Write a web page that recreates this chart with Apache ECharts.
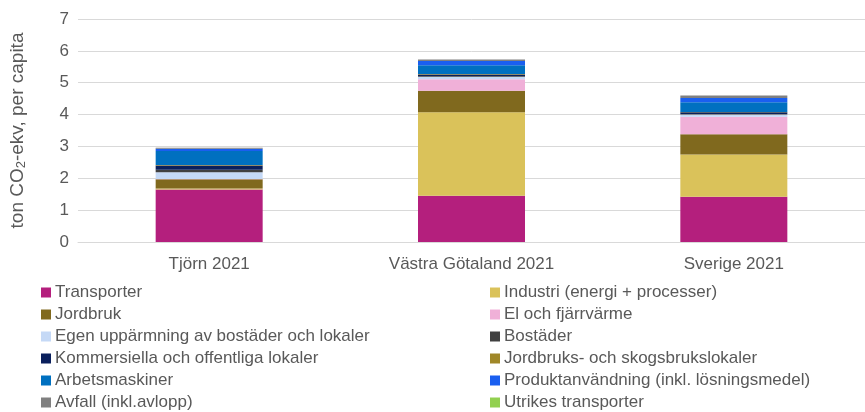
<!DOCTYPE html>
<html>
<head>
<meta charset="utf-8">
<script src="https://cdn.jsdelivr.net/npm/echarts@6/dist/echarts.min.js"></script>
<style>
  html, body { margin: 0; padding: 0; background: #fff; }
  #chart { width: 865px; height: 412px; }
</style>
</head>
<body>
<div id="chart"></div>
<script>
const categories = ["Tjörn 2021", "Västra Götaland 2021", "Sverige 2021"];

// ton CO2-ekv per capita
const transporter = [1.65, 1.45, 1.42];
const industri = [0.03, 2.62, 1.33];
const jordbruk = [0.29, 0.68, 0.63];
const elFjarrvarme = [0.01, 0.36, 0.55];
const egenUppvarmning = [0.21, 0.08, 0.07];
const bostader = [0.08, 0.02, 0.02];
const kommersiella = [0.13, 0.05, 0.05];
const jordbruksLokaler = [0.02, 0.01, 0.01];
const arbetsmaskiner = [0.44, 0.28, 0.31];
const produktanvandning = [0.07, 0.13, 0.13];
const avfall = [0.03, 0.05, 0.08];
const utrikes = [0, 0, 0];

const yTicks = [0, 1, 2, 3, 4, 5, 6, 7];

const seriesDefs = [
  ["Transporter", transporter, "#B41F7D"],
  ["Industri (energi + processer)", industri, "#DAC25A"],
  ["Jordbruk", jordbruk, "#80691E"],
  ["El och fjärrvärme", elFjarrvarme, "#F0B0D8"],
  ["Egen uppärmning av bostäder och lokaler", egenUppvarmning, "#C5D9F6"],
  ["Bostäder", bostader, "#404040"],
  ["Kommersiella och offentliga lokaler", kommersiella, "#0A1F5C"],
  ["Jordbruks- och skogsbrukslokaler", jordbruksLokaler, "#A08728"],
  ["Arbetsmaskiner", arbetsmaskiner, "#0070C0"],
  ["Produktanvändning (inkl. lösningsmedel)", produktanvandning, "#1A5FF0"],
  ["Avfall (inkl.avlopp)", avfall, "#808080"],
  ["Utrikes transporter", utrikes, "#92D050"]
];

const textColor = "#595959";
const font = "Liberation Sans, Arial, sans-serif";

// legend is laid out row by row in two columns
const legendLeft = seriesDefs.filter((d, i) => i % 2 === 0).map((d) => d[0]);
const legendRight = seriesDefs.filter((d, i) => i % 2 === 1).map((d) => d[0]);

function legendBlock(names, left) {
  return {
    data: names,
    orient: "vertical",
    left: left,
    top: 284,
    height: 130,
    padding: 0,
    itemWidth: 10,
    itemHeight: 10,
    itemGap: 5,
    icon: "rect",
    selectedMode: false,
    textStyle: { color: textColor, fontSize: 17, lineHeight: 17, fontFamily: font, padding: [0, 0, 0, -1] }
  };
}

const chart = echarts.init(document.getElementById("chart"), null, { renderer: "canvas" });

chart.setOption({
  animation: false,
  backgroundColor: "#fff",
  grid: { left: 78, top: 19, width: 800, height: 223 },
  legend: [legendBlock(legendLeft, 41), legendBlock(legendRight, 490)],
  xAxis: {
    type: "category",
    data: categories,
    axisLine: { show: true, lineStyle: { color: "#d9d9d9" } },
    axisTick: { show: false },
    axisLabel: { color: textColor, fontSize: 17, fontFamily: font, margin: 14 }
  },
  yAxis: {
    type: "value",
    min: yTicks[0],
    max: yTicks[yTicks.length - 1],
    interval: 1,
    name: "{a|ton CO}{s|2}{a|-ekv, per capita}",
    nameLocation: "middle",
    nameGap: 50,
    nameRotate: 90,
    nameTextStyle: {
      rich: {
        a: { color: textColor, fontSize: 19, fontFamily: font },
        s: { color: textColor, fontSize: 13, fontFamily: font, verticalAlign: "bottom", padding: [7, 0, 0, 0] }
      }
    },
    axisLine: { show: false },
    axisTick: { show: false },
    axisLabel: { color: textColor, fontSize: 17, fontFamily: font, margin: 9 },
    splitLine: { lineStyle: { color: "#d9d9d9", width: 1 } }
  },
  series: seriesDefs.map(([name, values, color]) => ({
    name: name,
    type: "bar",
    stack: "total",
    data: values,
    barWidth: 107,
    itemStyle: { color: color }
  }))
});
</script>
</body>
</html>
